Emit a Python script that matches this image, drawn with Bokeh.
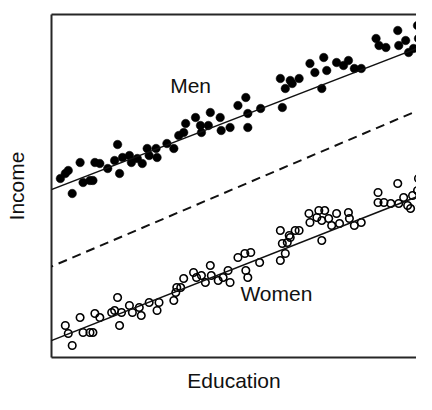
from bokeh.plotting import figure
from bokeh.models import Range1d, LinearAxis, FixedTicker, Slope, Label
from bokeh.embed import file_html
from bokeh.resources import INLINE

men_edu = [1.4, 2.1, 2.9, 3.2, 3.9, 4.4, 4.9, 4.2, 6.7, 6.9, 6.4, 7.2, 7.9, 8.1, 8.7, 9.2,
           9.7, 9.9, 10.7, 10.6, 11.7, 12.4, 12.9, 13.6, 13.4, 14.6, 15.1, 15.2, 16.1, 15.9,
           17.1, 17.2, 18.1, 18.9, 19.7, 19.9, 19.9, 21.2, 23.2, 23.7, 23.4, 24.2, 24.4, 25.1,
           26.2, 26.7, 27.6, 27.4, 27.9, 28.9, 29.6, 30.1, 30.7, 31.4, 32.9, 33.2, 33.9, 35.1,
           35.2, 35.9, 36.2, 37.1, 37.2, 37.6, 36.7, 37.9, 5.7, 0.9, 1.7]
men_inc = [18.4, 16.4, 19.5, 17.5, 17.7, 19.5, 19.4, 17.7, 21.3, 18.4, 19.7, 20.0, 20.2, 19.5, 19.9, 19.4,
           20.9, 20.2, 20.0, 20.9, 21.4, 20.9, 22.2, 23.4, 22.5, 24.0, 23.2, 22.5, 24.5, 23.2,
           24.0, 22.7, 23.0, 25.2, 26.0, 24.4, 23.0, 24.9, 27.9, 26.9, 25.0, 27.7, 27.4, 27.9,
           29.4, 28.5, 30.0, 26.9, 28.7, 29.5, 29.2, 29.7, 28.9, 28.9, 31.9, 31.2, 31.0, 32.7,
           31.2, 31.7, 30.5, 33.2, 31.9, 30.4, 30.9, 32.4, 18.9, 17.9, 18.7]

women_edu = [1.4, 1.7, 2.1, 2.9, 3.2, 3.9, 4.2, 4.4, 4.9, 6.1, 6.4, 6.7, 6.9, 7.1, 7.9, 8.2,
             8.9, 9.1, 9.9, 10.7, 10.9, 12.4, 12.7, 12.6, 13.1, 13.4, 14.4, 14.7, 15.2, 15.6,
             16.1, 16.2, 16.9, 17.4, 17.9, 18.1, 18.9, 19.6, 19.7, 19.9, 20.2, 21.1, 23.2, 23.4,
             23.2, 23.9, 24.1, 23.7, 24.2, 24.7, 25.1, 26.1, 26.2, 26.9, 27.1, 27.4, 27.4, 27.7,
             28.1, 28.4, 28.9, 29.2, 30.1, 30.2, 30.7, 31.4, 33.1, 33.1, 33.7, 34.4, 35.1, 35.2,
             35.7, 36.1, 36.4, 36.6, 37.1, 37.2, 37.4, 37.7]
women_inc = [3.2, 2.4, 1.2, 4.0, 2.5, 2.5, 2.5, 4.4, 4.0, 4.5, 4.7, 6.0, 3.2, 4.5, 5.2, 4.5,
             5.0, 4.2, 5.5, 4.7, 5.5, 5.7, 7.0, 6.5, 7.0, 7.9, 8.5, 8.0, 8.2, 7.5,
             9.2, 8.2, 7.7, 8.0, 8.7, 7.5, 10.0, 10.4, 8.7, 8.0, 10.5, 9.5, 12.7, 11.4,
             9.7, 11.5, 12.2, 10.4, 12.0, 12.7, 12.7, 14.4, 13.5, 14.0, 14.7, 13.7, 11.7, 14.7,
             13.9, 13.2, 14.4, 13.4, 14.5, 13.9, 13.2, 13.5, 16.5, 15.5, 15.5, 15.4, 17.4, 15.4,
             16.0, 15.2, 14.9, 16.2, 16.7, 17.9, 15.2, 17.0]

# fitted lines: (intercept, slope)
men_fit = (16.8, 0.381)
women_fit = (1.7, 0.388)
pooled_fit = (9.1, 0.42)

FONT = "Liberation Sans"
FS = "21px"

p = figure(width=416, height=394, output_backend="svg", toolbar_location=None,
           x_range=Range1d(0, 37.0), y_range=Range1d(0, 34.3),
           min_border_left=51, min_border_right=0, min_border_top=14, min_border_bottom=37,
           x_axis_label="Education", y_axis_label="Income")
p.grid.visible = False
p.outline_line_color = None
p.background_fill_color = "white"
p.border_fill_color = "white"

top = LinearAxis()
p.add_layout(top, "above")

for ax in p.axis:
    ax.ticker = FixedTicker(ticks=[])
    ax.major_tick_line_color = None
    ax.minor_tick_line_color = None
    ax.major_tick_out = 0
    ax.major_tick_in = 0
    ax.major_label_text_font_size = "0px"
    ax.major_label_standoff = 0
    ax.axis_line_width = 2
    ax.axis_line_color = "#262626"
    ax.axis_label_text_font = FONT
    ax.axis_label_text_font_size = FS
    ax.axis_label_text_font_style = "normal"
    ax.axis_label_text_color = "#111111"

p.below[0].axis_label_standoff = 11
p.left[0].axis_label_standoff = 24

p.add_layout(Slope(gradient=men_fit[1], y_intercept=men_fit[0], line_color="#111111", line_width=1.5))
p.add_layout(Slope(gradient=women_fit[1], y_intercept=women_fit[0], line_color="#111111", line_width=1.5))
p.add_layout(Slope(gradient=pooled_fit[1], y_intercept=pooled_fit[0], line_color="#111111",
                   line_width=2, line_dash="9 6"))

p.scatter(men_edu, men_inc, size=8.5, fill_color="black", line_color="black", line_width=0.5)
p.scatter(women_edu, women_inc, size=7.5, fill_color=None, line_color="black", line_width=1.6)

p.add_layout(Label(x=14.1, y=27.2, text="Men", text_align="center", text_baseline="middle",
                   text_font=FONT, text_font_size=FS, text_color="#111111"))
p.add_layout(Label(x=22.8, y=6.4, text="Women", text_align="center", text_baseline="middle",
                   text_font=FONT, text_font_size=FS, text_color="#111111"))

open("out.html", "w").write(file_html(p, INLINE))
